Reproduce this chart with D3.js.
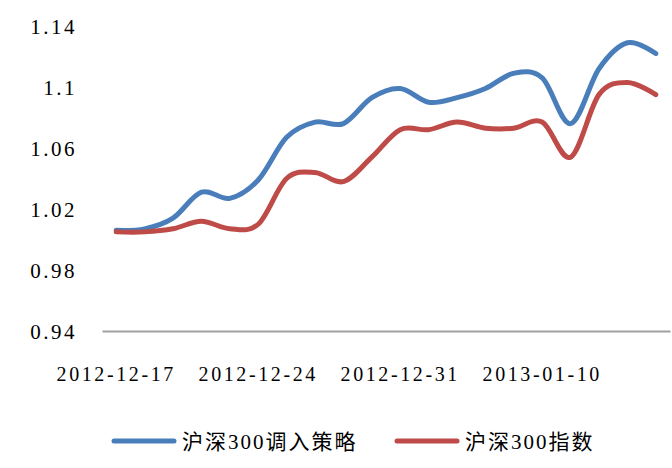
<!DOCTYPE html>
<html><head><meta charset="utf-8">
<script src="https://cdn.jsdelivr.net/npm/d3@7/dist/d3.min.js"></script>
<style>
html,body{margin:0;padding:0;background:#fff;}
svg{display:block;}
</style></head>
<body>
<svg id="chart" width="672" height="468"></svg>
<script>
const dates = ["2012-12-17","2012-12-18","2012-12-19","2012-12-20","2012-12-21",
  "2012-12-24","2012-12-25","2012-12-26","2012-12-27","2012-12-28",
  "2012-12-31","2013-01-04","2013-01-07","2013-01-08","2013-01-09",
  "2013-01-10","2013-01-11","2013-01-14","2013-01-15","2013-01-16"];
const strategy = [1.006,1.007,1.014,1.031,1.027,1.039,1.067,1.077,1.076,1.093,
  1.099,1.090,1.093,1.099,1.109,1.106,1.076,1.112,1.129,1.122];
const index300 = [1.005,1.005,1.007,1.012,1.007,1.010,1.040,1.044,1.038,1.054,
  1.072,1.072,1.077,1.073,1.073,1.077,1.054,1.095,1.103,1.095];
const yTicks = [0.94,0.98,1.02,1.06,1.10,1.14];
const yTickLabels = ["0.94","0.98","1.02","1.06","1.1","1.14"];
const xTickDates = ["2012-12-17","2012-12-24","2012-12-31","2013-01-10"];
const seriesNames = ["沪深300调入策略","沪深300指数"];
const colors = ["#4a7ebb","#be4b48"];

const svg = d3.select("#chart");
const x = d3.scaleBand().domain(dates).range([102,670]).paddingInner(0).paddingOuter(0);
const cx = d => x(d) + x.bandwidth()/2;
const y = d3.scaleLinear().domain([0.94,1.14]).range([331,26]);

// x axis
const xAxis = d3.axisBottom(x).tickValues(xTickDates).tickSize(0).tickSizeOuter(0).tickPadding(0);
const gx = svg.append("g").attr("transform","translate(0,331)").call(xAxis);
gx.select(".domain").attr("stroke","#a0a0a0").attr("stroke-width",2.2);
gx.selectAll("text")
  .attr("y",50).attr("dy",0)
  .attr("font-family","'Liberation Serif', 'DejaVu Serif', serif")
  .attr("font-size",20).attr("fill","#000")
  .style("letter-spacing","2.6px");

// y axis
const yAxis = d3.axisLeft(y).tickValues(yTicks).tickSize(0).tickPadding(0)
  .tickFormat((d,i)=>yTickLabels[i]);
const gy = svg.append("g").attr("transform","translate(77,0)").call(yAxis);
gy.select(".domain").remove();
gy.selectAll("text")
  .attr("x",0).attr("dy","0.34em")
  .attr("font-family","'Liberation Serif', 'DejaVu Serif', serif")
  .attr("font-size",21).attr("fill","#000")
  .style("letter-spacing","2.5px");

// lines
const line = d3.line().x((d,i)=>cx(dates[i])).y(d=>y(d)).curve(d3.curveCardinal.tension(0));
[strategy,index300].forEach((s,k)=>{
  svg.append("path").datum(s).attr("d",line)
    .attr("fill","none").attr("stroke",colors[k]).attr("stroke-width",5)
    .attr("stroke-linecap","round").attr("stroke-linejoin","round");
});

// legend
const legX = [114,397];
seriesNames.forEach((n,k)=>{
  svg.append("line").attr("x1",legX[k]).attr("x2",legX[k]+60).attr("y1",441).attr("y2",441)
    .attr("stroke",colors[k]).attr("stroke-width",5).attr("stroke-linecap","round");
  svg.append("text").attr("x",legX[k]+68).attr("y",449).text(n)
    .attr("font-family","'Liberation Serif', 'Noto Sans CJK SC', serif")
    .attr("font-size",21).attr("fill","#000")
    .style("letter-spacing","2px");
});
</script>
</body></html>
